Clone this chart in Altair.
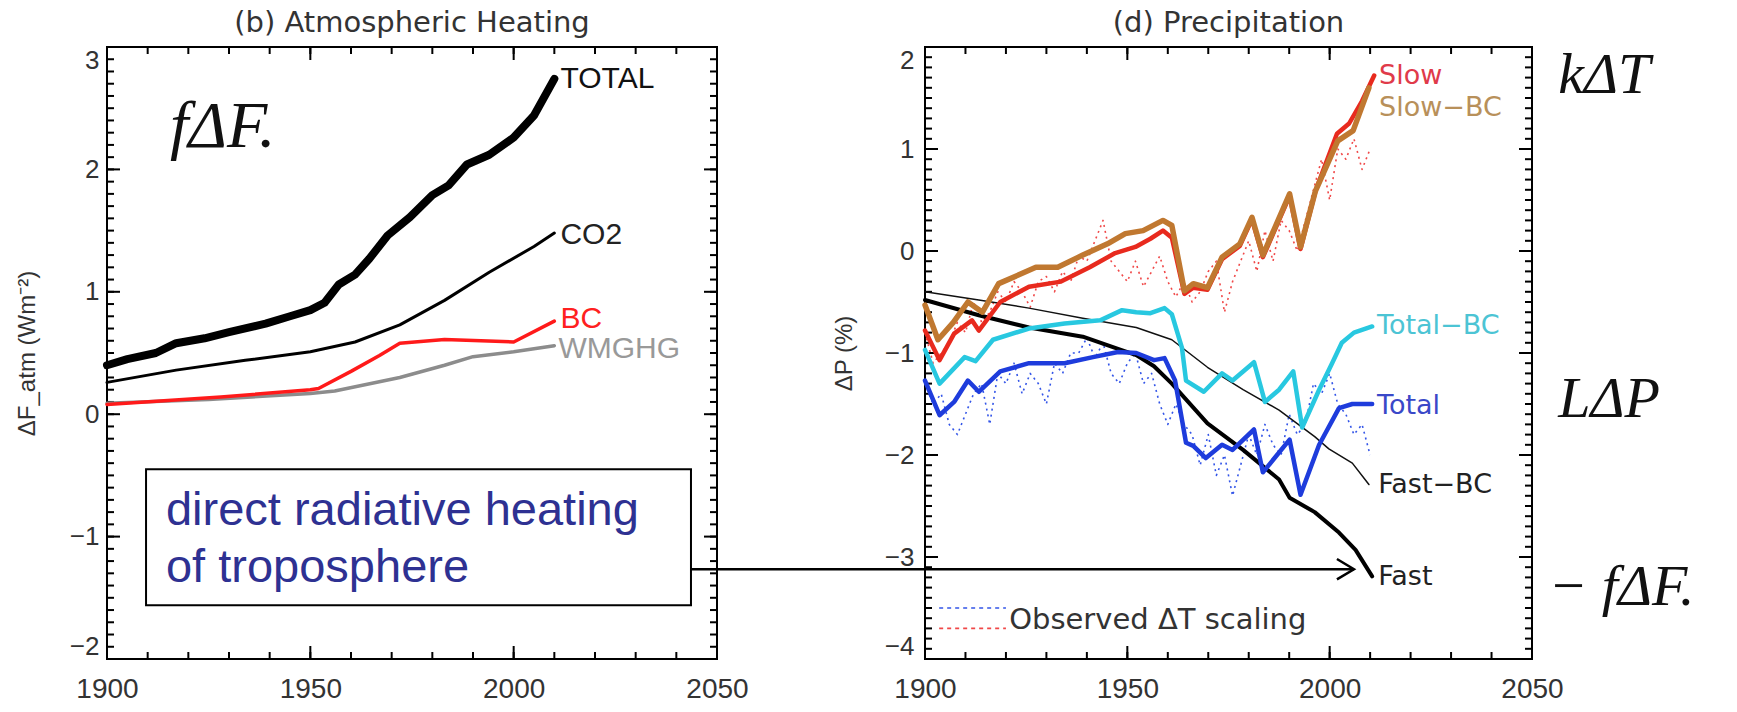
import altair as alt
import pandas as pd

# ---------------- panel (b) Atmospheric Heating ----------------
total_years = [1900, 1905, 1912, 1917, 1924, 1930, 1939, 1945, 1950, 1953.5, 1957, 1961, 1964.5,
               1969, 1974.5, 1980, 1984, 1988.5, 1994, 2000, 2005, 2010]
total_vals = [0.40, 0.45, 0.50, 0.58, 0.62, 0.67, 0.74, 0.80, 0.85, 0.91, 1.06, 1.14, 1.27,
              1.46, 1.61, 1.79, 1.87, 2.04, 2.12, 2.26, 2.44, 2.74]
co2_years = [1900, 1917, 1934, 1950, 1961, 1972, 1983, 1994, 2005, 2010]
co2_vals = [0.26, 0.36, 0.44, 0.51, 0.59, 0.73, 0.93, 1.16, 1.37, 1.48]
bc_years = [1900, 1928, 1950, 1952, 1960, 1967, 1972, 1983, 2000, 2010]
bc_vals = [0.08, 0.14, 0.20, 0.21, 0.35, 0.48, 0.58, 0.61, 0.59, 0.76]
wm_years = [1900, 1925, 1950, 1956, 1972, 1983, 1990, 2000, 2010]
wm_vals = [0.09, 0.12, 0.17, 0.19, 0.30, 0.40, 0.47, 0.51, 0.56]

left_label_text = ["TOTAL", "CO2", "BC", "WMGHG"]
left_label_year = [2011.5, 2011.5, 2011.5, 2011.0]
left_label_val = [2.74, 1.46, 0.78, 0.53]
left_label_color = ["#111111", "#222222", "#FF2020", "#999999"]

# ---------------- panel (d) Precipitation ----------------
slow_years = [1900, 1903.6, 1907.2, 1911.6, 1913.3, 1918.6, 1925.7, 1933.6, 1940.7, 1947, 1952,
              1955.7, 1958.8, 1961, 1964.1, 1966.3, 1969.8, 1973.4, 1977.8, 1980.8, 1983.5,
              1990.1, 1992.8, 1996.5, 2001.8, 2004.8, 2008, 2011]
slow_vals = [-0.78, -1.07, -0.81, -0.68, -0.78, -0.50, -0.35, -0.30, -0.16, -0.02, 0.04,
             0.12, 0.20, 0.13, -0.42, -0.36, -0.38, -0.08, 0.05, 0.31, -0.06,
             0.54, 0.02, 0.59, 1.15, 1.25, 1.47, 1.72]
slowbc_years = [1900, 1903.2, 1907, 1910.6, 1914.2, 1918.2, 1927.4, 1932.8, 1939, 1945.1, 1949.5,
                1953.9, 1958.8, 1961, 1964.1, 1966.3, 1969.8, 1973.4, 1977.8, 1980.8, 1983.5,
                1990.1, 1992.8, 1996.5, 2002, 2005.8, 2009.7]
slowbc_vals = [-0.53, -0.87, -0.70, -0.50, -0.60, -0.32, -0.16, -0.16, -0.04, 0.07, 0.17,
               0.20, 0.30, 0.25, -0.39, -0.32, -0.36, -0.06, 0.07, 0.33, -0.04,
               0.56, 0.04, 0.59, 1.08, 1.18, 1.60]
totbc_years = [1900, 1903.6, 1909.8, 1912.5, 1916.8, 1925.7, 1934.5, 1943.3, 1948.7, 1952.2,
               1955.7, 1959.2, 1961, 1963.5, 1964.5, 1968.9, 1973.4, 1976, 1981.3, 1984,
               1987.5, 1991, 1993.2, 1997.4, 2000.6, 2003, 2006, 2010.5]
totbc_vals = [-0.97, -1.30, -1.04, -1.08, -0.87, -0.76, -0.71, -0.68, -0.58, -0.60,
              -0.61, -0.56, -0.62, -0.95, -1.27, -1.38, -1.20, -1.27, -1.09, -1.48,
              -1.36, -1.18, -1.73, -1.36, -1.10, -0.90, -0.80, -0.74]
tot_years = [1900, 1903.6, 1907.2, 1910.6, 1913.3, 1918.6, 1925.7, 1934.5, 1941.5, 1947.7,
             1952.2, 1956.6, 1959.2, 1961.8, 1964.5, 1966.3, 1969.4, 1973.4, 1976, 1981.3,
             1983.5, 1990.1, 1992.8, 1997.4, 2002.3, 2005.6, 2010.5]
tot_vals = [-1.27, -1.61, -1.48, -1.27, -1.38, -1.18, -1.10, -1.10, -1.04, -0.99,
            -1.00, -1.07, -1.05, -1.27, -1.88, -1.91, -2.03, -1.90, -1.95, -1.75,
            -2.17, -1.85, -2.39, -1.90, -1.54, -1.50, -1.50]
fastbc_years = [1900, 1913.3, 1925.7, 1939, 1952.2, 1961, 1969.8, 1978.6, 1987.5, 1996.3,
                1999.8, 2005.6, 2009.7]
fastbc_vals = [-0.40, -0.48, -0.56, -0.66, -0.75, -0.87, -1.14, -1.36, -1.56, -1.82,
               -1.94, -2.08, -2.29]
fast_years = [1900, 1913.3, 1925.7, 1939, 1947.7, 1952.2, 1956.6, 1961, 1969.8, 1978.6,
              1987.5, 1990.1, 1996.3, 2002.3, 2006.4, 2010.5]
fast_vals = [-0.48, -0.63, -0.75, -0.84, -0.96, -1.02, -1.13, -1.30, -1.69, -1.95,
             -2.24, -2.42, -2.56, -2.76, -2.93, -3.19]

obs_years = [1900, 1902, 1904, 1906, 1908, 1910, 1912, 1914, 1916, 1918, 1920, 1922, 1924,
             1926, 1928, 1930, 1932, 1934, 1936, 1938, 1940, 1942, 1944, 1946, 1948, 1950,
             1952, 1954, 1956, 1958, 1960, 1962, 1964, 1966, 1968, 1970, 1972, 1974, 1976,
             1978, 1980, 1982, 1984, 1986, 1988, 1990, 1992, 1994, 1996, 1998, 2000, 2002,
             2004, 2006, 2008, 2010]
obs_red = [-0.8, -1.1, -1.0, -0.9, -0.7, -0.8, -0.5, -0.7, -0.6, -0.4, -0.5, -0.3, -0.4,
           -0.55, -0.3, -0.25, -0.4, -0.2, -0.3, -0.05, -0.1, 0.1, 0.3, -0.1, -0.2, -0.3,
           -0.1, -0.35, -0.2, -0.05, -0.3, -0.45, -0.3, -0.5, -0.4, -0.2, -0.1, -0.6, -0.3,
           -0.1, 0.1, -0.2, 0.2, -0.1, 0.3, 0.2, 0.0, 0.3, 0.6, 0.9, 0.5, 1.0,
           0.9, 1.1, 0.8, 1.0]
obs_blue = [-1.3, -1.5, -1.4, -1.7, -1.8, -1.6, -1.4, -1.3, -1.7, -1.2, -1.3, -1.1, -1.4,
            -1.2, -1.3, -1.5, -1.1, -1.2, -1.0, -1.0, -0.85, -1.05, -0.9, -1.2, -1.3, -1.1,
            -1.0, -1.3, -1.2, -1.5, -1.7, -1.5, -1.7, -1.8, -2.1, -1.8, -2.2, -2.0, -2.4,
            -2.1, -1.8, -2.0, -1.7, -1.9, -2.0, -1.6, -1.8, -1.7, -1.3, -1.4, -1.2, -1.5,
            -1.6, -1.8, -1.7, -2.0]

right_label_text = ["Slow", "Slow\u2212BC", "Total\u2212BC", "Total", "Fast\u2212BC", "Fast"]
right_label_year = [2012.2, 2012.2, 2011.7, 2011.7, 2012.0, 2012.0]
right_label_val = [1.72, 1.40, -0.74, -1.52, -2.29, -3.20]
right_label_color = ["#E03A4A", "#B8905A", "#4CC4D4", "#3A48C8", "#222222", "#222222"]

math_text = ["k\u0394T", "L\u0394P", "\u2212  f\u0394F."]
math_year = [2056.5, 2056.5, 2054.0]
math_val = [1.72, -1.46, -3.30]

# ---------------- styling constants ----------------
LW, LH = 610, 612
RW, RH = 607, 612
SANS = "Liberation Sans"
NARROW = "Liberation Sans Narrow, Liberation Sans, sans-serif"
IDL = "DejaVu Sans"
SERIF = "Liberation Serif, DejaVu Serif, serif"

x_major = [1900, 1950, 2000, 2050]
x_minor = list(range(1900, 2051, 10))
yl_major = [-2, -1, 0, 1, 2, 3]
yl_minor = [round(-2 + 0.1 * i, 2) for i in range(51)]
yr_major = [-4, -3, -2, -1, 0, 1, 2]
yr_minor = [round(-4 + 0.1 * i, 2) for i in range(61)]


def make_axes(yvals, ytitle, ytitle_pad, ylab_pad):
    xa = alt.Axis(values=x_major, format="d", ticks=False, tickSize=0, domain=False, grid=False,
                  labelFlush=False, labelFont=SANS, labelFontSize=28, labelColor="#333333",
                  labelPadding=16, title=None)
    ya = alt.Axis(values=yvals, format="d", ticks=False, tickSize=0, domain=False, grid=False,
                  labelFlush=True, labelFont=SANS, labelFontSize=26, labelColor="#333333",
                  labelPadding=ylab_pad, title=ytitle, titleFont=SANS, titleFontSize=24,
                  titleFontWeight="normal", titleColor="#333333", titlePadding=ytitle_pad)
    return xa, ya


class Panel:
    def __init__(self, xs, ys, xa, ya):
        self.xs, self.ys, self.xa, self.ya = xs, ys, xa, ya

    def X(self, f="year:Q"):
        return alt.X(f, scale=self.xs, axis=self.xa)

    def Y(self, f="v:Q"):
        return alt.Y(f, scale=self.ys, axis=self.ya)


def d(years, vals):
    return pd.DataFrame({"year": years, "v": vals})


def line(p, data, color, width, dash=None):
    kw = dict(color=color, strokeWidth=width, clip=False, strokeJoin="round", strokeCap="round")
    if dash is not None:
        kw["strokeDash"] = dash
        kw["strokeCap"] = "butt"
    return alt.Chart(data).mark_line(**kw).encode(x=p.X(), y=p.Y(), order="year:Q")


def tick_layers(p, ymajor, yminor, W, H):
    out = []
    for vals, ln in [(x_minor, 7), (x_major, 13)]:
        tdf = pd.DataFrame({"year": vals})
        out.append(alt.Chart(tdf).mark_rule(color="black", strokeWidth=2).encode(
            x=p.X(), y=alt.value(H), y2=alt.value(H - ln)))
        out.append(alt.Chart(tdf).mark_rule(color="black", strokeWidth=2).encode(
            x=p.X(), y=alt.value(0), y2=alt.value(ln)))
    for vals, ln in [(yminor, 7), (ymajor, 13)]:
        tdf = pd.DataFrame({"v": vals})
        out.append(alt.Chart(tdf).mark_rule(color="black", strokeWidth=2).encode(
            y=p.Y(), x=alt.value(0), x2=alt.value(ln)))
        out.append(alt.Chart(tdf).mark_rule(color="black", strokeWidth=2).encode(
            y=p.Y(), x=alt.value(W), x2=alt.value(W - ln)))
    return out


# ---------------- left panel ----------------
XL = alt.Scale(domain=[1900, 2050], nice=False, zero=False)
YL = alt.Scale(domain=[-2, 3], nice=False, zero=False)
xaL, yaL = make_axes(yl_major, "\u0394F_atm (Wm\u207b\u00b2)", 30, 8)
PL = Panel(XL, YL, xaL, yaL)

left_labels = pd.DataFrame({"year": left_label_year, "v": left_label_val,
                            "t": left_label_text, "c": left_label_color})
box_df = pd.DataFrame({"x1": [1909.6], "x2": [2043.6], "y1": [-0.45], "y2": [-1.56]})
box_text = pd.DataFrame({"year": [1914.5, 1914.5], "v": [-0.905, -1.37],
                         "t": ["direct radiative heating", "of troposphere"]})
fdf_left = pd.DataFrame({"year": [1915.5], "v": [2.35], "t": ["f\u0394F."]})

left_layers = tick_layers(PL, yl_major, yl_minor, LW, LH)
left_layers += [
    line(PL, d(wm_years, wm_vals), "#8C8C8C", 3.5),
    line(PL, d(bc_years, bc_vals), "#FF1A1A", 3.5),
    line(PL, d(co2_years, co2_vals), "#000000", 3),
    line(PL, d(total_years, total_vals), "#000000", 8),
    alt.Chart(left_labels).mark_text(align="left", baseline="middle", font=NARROW,
                                     fontSize=30, clip=False).encode(
        x=PL.X(), y=PL.Y(), text="t:N", color=alt.Color("c:N", scale=None)),
    alt.Chart(box_df).mark_rect(fill="white", stroke="black", strokeWidth=2, clip=False).encode(
        x=PL.X("x1:Q"), x2="x2:Q", y=PL.Y("y1:Q"), y2="y2:Q"),
    alt.Chart(box_text).mark_text(align="left", baseline="alphabetic", font=SANS, fontSize=47,
                                  color="#2E3192", clip=False).encode(
        x=PL.X(), y=PL.Y(), text="t:N"),
    alt.Chart(fdf_left).mark_text(align="left", baseline="middle", font=SERIF, fontStyle="italic",
                                  fontSize=66, color="#111111", clip=False).encode(
        x=PL.X(), y=PL.Y(), text="t:N"),
]
left = alt.layer(*left_layers).properties(
    width=LW, height=LH,
    title=alt.TitleParams("(b) Atmospheric Heating", font=IDL, fontSize=29, fontWeight="normal",
                          color="#333333", anchor="middle", offset=8))

# ---------------- right panel ----------------
XR = alt.Scale(domain=[1900, 2050], nice=False, zero=False)
YR = alt.Scale(domain=[-4, 2], nice=False, zero=False)
xaR, yaR = make_axes(yr_major, "\u0394P (%)", 28, 11)
PR = Panel(XR, YR, xaR, yaR)

right_labels = pd.DataFrame({"year": right_label_year, "v": right_label_val,
                             "t": right_label_text, "c": right_label_color})
math_df = pd.DataFrame({"year": math_year, "v": math_val, "t": math_text})
arrow_df = pd.DataFrame({"x1": [1842.2], "x2": [2006.0], "v": [-3.12]})
arrow_head = pd.DataFrame({"year": [2006.0], "v": [-3.12]})
legend_blue = pd.DataFrame({"year": [1903.5, 1920.0], "v": [-3.50, -3.50]})
legend_red = pd.DataFrame({"year": [1903.5, 1920.0], "v": [-3.70, -3.70]})
legend_text = pd.DataFrame({"year": [1920.8], "v": [-3.62], "t": ["Observed \u0394T scaling"]})

right_layers = tick_layers(PR, yr_major, yr_minor, RW, RH)
right_layers += [
    line(PR, d(obs_years, obs_blue), "#3355E8", 1.6, dash=[2, 4]),
    line(PR, d(obs_years, obs_red), "#F04848", 1.6, dash=[2, 4]),
    line(PR, d(fastbc_years, fastbc_vals), "#111111", 1.5),
    line(PR, d(fast_years, fast_vals), "#000000", 4),
    line(PR, d(tot_years, tot_vals), "#1E3CDC", 4.5),
    line(PR, d(totbc_years, totbc_vals), "#28C8E0", 4.5),
    line(PR, d(slow_years, slow_vals), "#E82A1E", 4.5),
    line(PR, d(slowbc_years, slowbc_vals), "#C07830", 5.5),
    line(PR, legend_blue, "#3355E8", 1.6, dash=[4, 4]),
    line(PR, legend_red, "#F04848", 1.6, dash=[4, 4]),
    alt.Chart(legend_text).mark_text(align="left", baseline="middle", font=IDL, fontSize=29,
                                     color="#333333").encode(
        x=PR.X(), y=PR.Y(), text="t:N"),
    alt.Chart(right_labels).mark_text(align="left", baseline="middle", font=IDL, fontSize=27,
                                      clip=False).encode(
        x=PR.X(), y=PR.Y(), text="t:N", color=alt.Color("c:N", scale=None)),
    alt.Chart(math_df).mark_text(align="left", baseline="middle", font=SERIF, fontStyle="italic",
                                 fontSize=58, color="#111111", clip=False).encode(
        x=PR.X(), y=PR.Y(), text="t:N"),
    alt.Chart(arrow_df).mark_rule(color="black", strokeWidth=2.5, clip=False).encode(
        x=PR.X("x1:Q"), x2="x2:Q", y=PR.Y()),
    alt.Chart(arrow_head).mark_point(shape="M-1,-0.6L0,0L-1,0.6", filled=False, size=1156,
                                     color="black", strokeWidth=2.5, opacity=1, clip=False).encode(
        x=PR.X(), y=PR.Y()),
]
right = alt.layer(*right_layers).properties(
    width=RW, height=RH,
    title=alt.TitleParams("(d) Precipitation", font=IDL, fontSize=29, fontWeight="normal",
                          color="#333333", anchor="middle", offset=8))

chart = alt.hconcat(left, right, spacing=208, bounds="flush").configure_view(
    stroke="black", strokeWidth=2
).properties(
    padding={"left": 14, "top": 8, "right": 0, "bottom": 0}, background="white"
)

chart.save("out.html", embed_options={"renderer": "svg", "actions": False})
